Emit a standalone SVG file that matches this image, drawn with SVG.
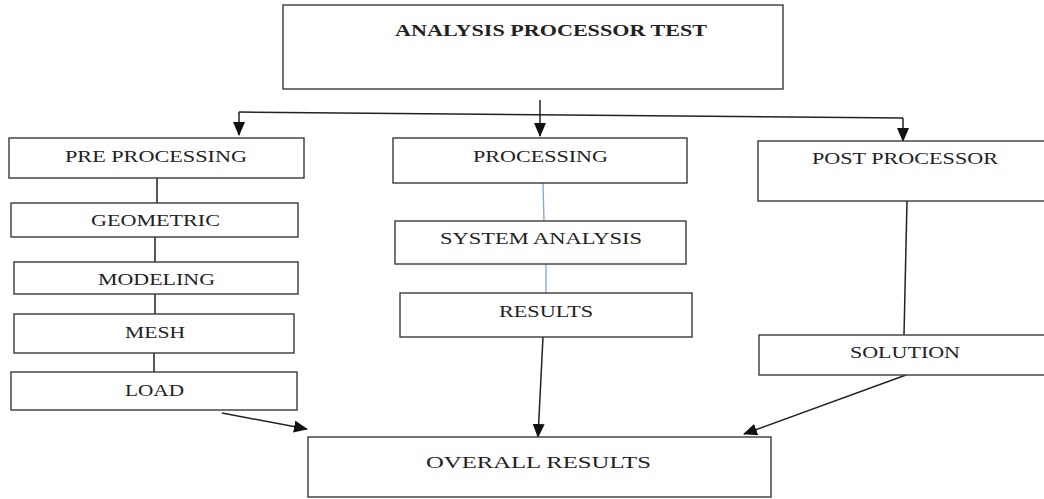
<svg xmlns="http://www.w3.org/2000/svg" width="1044" height="499" viewBox="0 0 1044 499">
<style>
.box{fill:#fff;stroke:#3a3a3a;stroke-width:1.4}
.lbl{font-family:"Liberation Serif","Times New Roman",serif;font-size:17px;fill:#222}
.ttl{font-weight:bold}
.ln{stroke:#222;stroke-width:1.5;fill:none}
.blue{stroke:#7aa7dc;stroke-width:1.3;fill:none}
</style>
<defs>
<marker id="ah" markerWidth="14" markerHeight="12" refX="13" refY="6" orient="auto" markerUnits="userSpaceOnUse">
<path d="M0,0 L14,6 L0,12 Z" fill="#111"/>
</marker>
</defs>
<rect width="1044" height="499" fill="#fff"/>
<g id="connectors">
<line class="ln" x1="239" y1="112" x2="903" y2="118"/>
<line class="ln" x1="540" y1="100" x2="540" y2="136" marker-end="url(#ah)"/>
<line class="ln" x1="239" y1="112" x2="239" y2="135" marker-end="url(#ah)"/>
<line class="ln" x1="903" y1="118" x2="903" y2="141" marker-end="url(#ah)"/>
<line class="ln" x1="157" y1="178" x2="157" y2="203"/>
<line class="ln" x1="155" y1="237" x2="155" y2="262"/>
<line class="ln" x1="155" y1="294" x2="155" y2="314"/>
<line class="ln" x1="154" y1="353" x2="154" y2="372"/>
<line class="blue" x1="543" y1="183" x2="544" y2="221"/>
<line class="blue" x1="546" y1="264" x2="546" y2="293"/>
<line class="ln" x1="907" y1="201" x2="904" y2="335"/>
<line class="ln" x1="222" y1="413" x2="307" y2="429" marker-end="url(#ah)"/>
<line class="ln" x1="543" y1="337" x2="538" y2="437" marker-end="url(#ah)"/>
<line class="ln" x1="906" y1="375" x2="744" y2="434" marker-end="url(#ah)"/>
</g>
<g id="n-title"><rect class="box" x="283" y="5" width="500" height="84"/><text class="lbl ttl" x="395" y="36" textLength="312" lengthAdjust="spacingAndGlyphs">ANALYSIS PROCESSOR TEST</text></g>
<g id="n-pre"><rect class="box" x="9" y="138" width="295" height="40"/><text class="lbl" x="65" y="162" textLength="182" lengthAdjust="spacingAndGlyphs">PRE PROCESSING</text></g>
<g id="n-geometric"><rect class="box" x="11" y="203" width="287" height="34"/><text class="lbl" x="91" y="226" textLength="129" lengthAdjust="spacingAndGlyphs">GEOMETRIC</text></g>
<g id="n-modeling"><rect class="box" x="14" y="262" width="284" height="32"/><text class="lbl" x="98" y="285" textLength="117" lengthAdjust="spacingAndGlyphs">MODELING</text></g>
<g id="n-mesh"><rect class="box" x="14" y="314" width="280" height="39"/><text class="lbl" x="125" y="338" textLength="60" lengthAdjust="spacingAndGlyphs">MESH</text></g>
<g id="n-load"><rect class="box" x="11" y="372" width="286" height="38"/><text class="lbl" x="125" y="396" textLength="59" lengthAdjust="spacingAndGlyphs">LOAD</text></g>
<g id="n-processing"><rect class="box" x="393" y="138" width="294" height="45"/><text class="lbl" x="473" y="162" textLength="135" lengthAdjust="spacingAndGlyphs">PROCESSING</text></g>
<g id="n-system"><rect class="box" x="395" y="221" width="291" height="43"/><text class="lbl" x="440" y="244" textLength="202" lengthAdjust="spacingAndGlyphs">SYSTEM ANALYSIS</text></g>
<g id="n-results"><rect class="box" x="400" y="293" width="292" height="44"/><text class="lbl" x="499" y="317" textLength="94" lengthAdjust="spacingAndGlyphs">RESULTS</text></g>
<g id="n-post"><rect class="box" x="758" y="141" width="300" height="60"/><text class="lbl" x="812" y="164" textLength="186" lengthAdjust="spacingAndGlyphs">POST PROCESSOR</text></g>
<g id="n-solution"><rect class="box" x="759" y="335" width="300" height="40"/><text class="lbl" x="850" y="358" textLength="110" lengthAdjust="spacingAndGlyphs">SOLUTION</text></g>
<g id="n-overall"><rect class="box" x="308" y="437" width="463" height="60"/><text class="lbl" x="426" y="468" textLength="225" lengthAdjust="spacingAndGlyphs">OVERALL RESULTS</text></g>
</svg>
